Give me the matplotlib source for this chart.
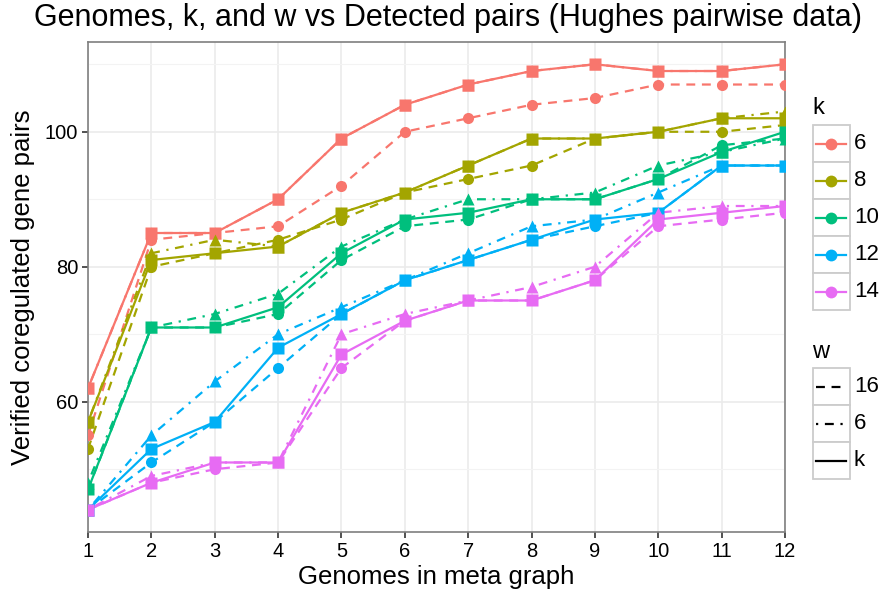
import matplotlib
matplotlib.use('Agg')
import matplotlib.pyplot as plt
from matplotlib.lines import Line2D
from matplotlib.patches import Rectangle

plt.rcParams['font.family'] = ['Liberation Sans', 'DejaVu Sans']

genomes = list(range(1, 13))
k_levels = [6, 8, 10, 12, 14]
w_levels = ['16', '6', 'k']

# verified pairs, one list per (k, w)
k6_w16 = [55, 84, 85, 86, 92, 100, 102, 104, 105, 107, 107, 107]
k6_w6 = [62, 85, 85, 90, 99, 104, 107, 109, 110, 109, 109, 110]
k6_wk = [62, 85, 85, 90, 99, 104, 107, 109, 110, 109, 109, 110]
k8_w16 = [53, 80, 82, 84, 87, 91, 93, 95, 99, 100, 100, 101]
k8_w6 = [57, 82, 84, 83, 88, 91, 95, 99, 99, 100, 102, 103]
k8_wk = [57, 81, 82, 83, 88, 91, 95, 99, 99, 100, 102, 102]
k10_w16 = [47, 71, 71, 73, 81, 86, 87, 90, 90, 93, 98, 99]
k10_w6 = [48, 71, 73, 76, 83, 87, 90, 90, 91, 95, 97, 99]
k10_wk = [47, 71, 71, 74, 82, 87, 88, 90, 90, 93, 97, 100]
k12_w16 = [44, 51, 57, 65, 73, 78, 81, 84, 86, 88, 95, 95]
k12_w6 = [44, 55, 63, 70, 74, 78, 82, 86, 87, 91, 95, 95]
k12_wk = [44, 53, 57, 68, 73, 78, 81, 84, 87, 88, 95, 95]
k14_w16 = [44, 48, 50, 51, 65, 72, 75, 75, 78, 86, 87, 88]
k14_w6 = [44, 49, 51, 51, 70, 73, 75, 77, 80, 88, 89, 89]
k14_wk = [44, 48, 51, 51, 67, 72, 75, 75, 78, 87, 88, 89]

pairs = {
    (6, '16'): k6_w16, (6, '6'): k6_w6, (6, 'k'): k6_wk,
    (8, '16'): k8_w16, (8, '6'): k8_w6, (8, 'k'): k8_wk,
    (10, '16'): k10_w16, (10, '6'): k10_w6, (10, 'k'): k10_wk,
    (12, '16'): k12_w16, (12, '6'): k12_w6, (12, 'k'): k12_wk,
    (14, '16'): k14_w16, (14, '6'): k14_w6, (14, 'k'): k14_wk,
}

colors = {6: '#F8766D', 8: '#A3A500', 10: '#00BF7D', 12: '#00B0F6', 14: '#E76BF3'}
dashes = {'16': (4, 3), '6': (1, 3, 4, 3), 'k': None}
markers = {'16': 'o', '6': '^', 'k': 's'}

W, H = 881, 598
fig = plt.figure(figsize=(W / 100, H / 100), dpi=100)
ax = fig.add_axes([88 / W, 1 - 532 / H, (785 - 88) / W, (532 - 42) / H])

lw = 1.6
for k in k_levels:
    for w in w_levels:
        ln, = ax.plot(genomes, pairs[(k, w)], color=colors[k], lw=lw, zorder=3)
        if dashes[w]:
            ln.set_dashes(dashes[w])
for k in k_levels:
    for w in w_levels:
        ax.plot(genomes, pairs[(k, w)], ls='none', marker=markers[w],
                ms=8, color=colors[k], mec='none', zorder=4)

ymin = min(min(v) for v in pairs.values())
ymax = max(max(v) for v in pairs.values())
pad = (ymax - ymin) * 0.05
ax.set_ylim(ymin - pad, ymax + pad)
ax.set_xlim(1, 12)
ax.set_xticks(genomes)
ax.set_yticks([60, 80, 100])
ax.set_yticks([50, 70, 90, 110], minor=True)
ax.grid(True, which='major', color='#EBEBEB', lw=1.2, zorder=0)
ax.grid(True, which='minor', color='#F3F3F3', lw=0.8, zorder=0)
ax.set_axisbelow(True)
for s in ax.spines.values():
    s.set_color('#7F7F7F')
    s.set_linewidth(1.2)
ax.tick_params(which='major', length=4, width=1.2, color='#333333',
               labelsize=14.5, labelcolor='black', pad=3)
ax.tick_params(which='minor', length=0)

ax.set_xlabel('Genomes in meta graph', fontsize=18.5, labelpad=3)
ax.set_ylabel('Verified coregulated gene pairs', fontsize=18.5, labelpad=7)
fig.text(448 / W, 1 - 18 / H, 'Genomes, k, and w vs Detected pairs (Hughes pairwise data)',
         ha='center', va='center', fontsize=22)


def legend_box(x0, title_base, key_top, title, labels, handles):
    key = 37
    bottom = key_top + key * len(labels) + 2
    top = title_base - 25
    lax = fig.add_axes([x0 / W, 1 - bottom / H, 75 / W, (bottom - top) / H])
    lax.set_xlim(x0, x0 + 75)
    lax.set_ylim(bottom, top)
    lax.axis('off')
    lax.text(x0, title_base, title, fontsize=17, va='baseline', ha='left')
    for i, (lab, draw) in enumerate(zip(labels, handles)):
        ky = key_top + i * key
        lax.add_patch(Rectangle((x0 + 1, ky), key, key, fc='white', ec='#CCCCCC', lw=1.3))
        draw(lax, x0 + 1 + key / 2, ky + key / 2)
        lax.text(x0 + key + 5, ky + key / 2, lab, fontsize=16, va='center', ha='left')


def color_key(c):
    def draw(a, cx, cy):
        a.add_line(Line2D([cx - 15, cx + 15], [cy, cy], color=c, lw=lw))
        a.plot([cx], [cy], 'o', ms=8.5, color=c, mec='none')
    return draw


def type_key(d):
    def draw(a, cx, cy):
        ln = Line2D([cx - 15, cx + 15], [cy, cy], color='black', lw=lw)
        if d:
            ln.set_dashes(d)
        a.add_line(ln)
    return draw


legend_box(812, 114, 125, 'k', [str(k) for k in k_levels], [color_key(colors[k]) for k in k_levels])
legend_box(812, 358, 368, 'w', w_levels, [type_key(dashes[w]) for w in w_levels])

fig.savefig('out.png', dpi=100)
